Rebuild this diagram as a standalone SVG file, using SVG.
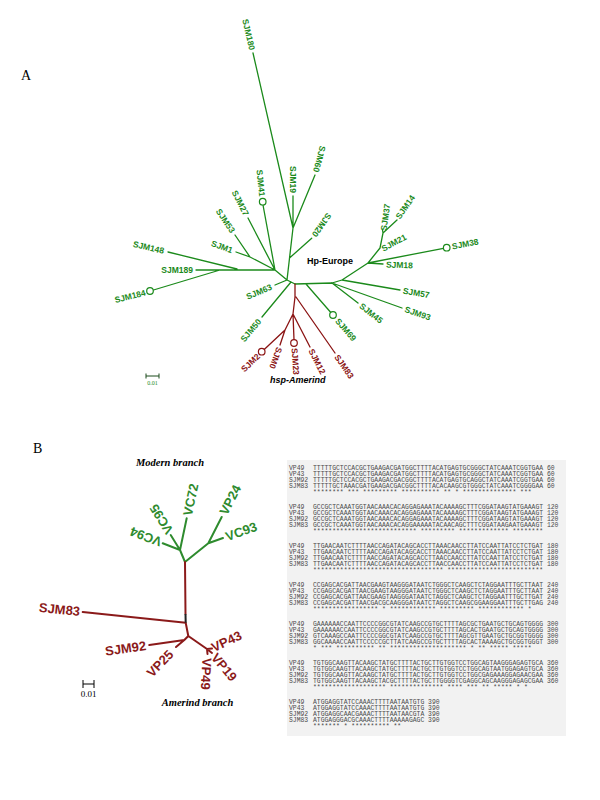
<svg xmlns="http://www.w3.org/2000/svg" width="600" height="800" viewBox="0 0 600 800">
<style>
.bg{fill:#ffffff}
.ga{stroke:#1b8a1b;stroke-width:1.3;fill:none;stroke-linecap:round}
.ra{stroke:#8b1414;stroke-width:1.3;fill:none;stroke-linecap:round}
.gb{stroke:#2e8b2e;stroke-width:2;fill:none;stroke-linecap:round}
.rb{stroke:#8b1a1a;stroke-width:2;fill:none;stroke-linecap:round}
.cg{stroke:#1b8a1b;stroke-width:1.2;fill:#ffffff}
.cr{stroke:#8b1414;stroke-width:1.2;fill:#ffffff}
.lg{font-family:"Liberation Sans",Arial,sans-serif;font-size:8.5px;font-weight:bold;fill:#1b8a1b}
.lr{font-family:"Liberation Sans",Arial,sans-serif;font-size:8.5px;font-weight:bold;fill:#8b1414}
.Lg{font-family:"Liberation Sans",Arial,sans-serif;font-size:13px;font-weight:bold;fill:#2e8b2e}
.Lr{font-family:"Liberation Sans",Arial,sans-serif;font-size:13px;font-weight:bold;fill:#8b1a1a}
.pl{font-family:"Liberation Serif","Times New Roman",serif;font-size:14px;fill:#000}
.it{font-family:"Liberation Serif","Times New Roman",serif;font-size:10.5px;font-weight:bold;font-style:italic;fill:#000;text-anchor:middle}
.sq{font-family:"Liberation Mono","Courier New",monospace;font-size:6.4px;fill:#4a4a4a;white-space:pre}
</style>
<rect class="bg" x="0" y="0" width="600" height="800"/>
<text class="pl" x="21" y="80">A</text>
<text class="pl" x="33" y="453">B</text>

<!-- Tree A connectors -->
<g id="connectors-a">
<path class="ga" d="M293,228 L253,53 M293,228 L293,196 M293,228 L315,175 M293,228 L287,280 M289.5,258 L311.7,238.3 M287,280 L275,270 M275,270 L263,205 M275,270 L248,218 M275,270 L250,257 M250,257 L235,235 M250,257 L236,252 M275,270 L196,270 M237,269 L168,252 M220,270 L153.5,290 M287,280 L275,285 M287,280 L295,284 M291,282 L262,317 M295,284 L332,283 M306,284 L330.8,312.5 M332,283 L358,303 M332,283 L402,308 M332,283 L342,280 M342,280 L400,290 M342,280 L368,263 M368,263 L383,264 M368,263 L443.5,248.3 M368,263 L380,248 M380,248 L383,233 M383,233 L382.5,230 M383,233 L397,220"/>
<path class="ra" d="M295,284 L295,297 L293,314 M296,297 L335,353 M293,314 L310,347 M293,314 L294,339.7 M293,314 L285,330 M285,330 L280,345 M285,330 L264.2,349.5"/>
</g>

<!-- Tree A nodes -->
<g id="node-sjm180"><text class="lg" text-anchor="end" dy="0.35em" transform="translate(252.3,50) rotate(77)">SJM180</text></g>
<g id="node-sjm19"><text class="lg" text-anchor="end" dy="0.35em" transform="translate(293,193) rotate(90)">SJM19</text></g>
<g id="node-sjm60"><text class="lg" text-anchor="end" dy="0.35em" transform="translate(316,172) rotate(105)">SJM60</text></g>
<g id="node-sjm20"><text class="lg" text-anchor="end" dy="0.35em" transform="translate(314,236) rotate(125)">SJM20</text></g>
<g id="node-sjm41"><circle class="cg" cx="262.7" cy="201.7" r="3.3"/><text class="lg" text-anchor="end" dy="0.35em" transform="translate(262.3,196.5) rotate(84)">SJM41</text></g>
<g id="node-sjm27"><text class="lg" text-anchor="end" dy="0.35em" transform="translate(246.5,215) rotate(63)">SJM27</text></g>
<g id="node-sjm53"><text class="lg" text-anchor="end" dy="0.35em" transform="translate(233,232) rotate(56)">SJM53</text></g>
<g id="node-sjm1"><text class="lg" text-anchor="end" dy="0.35em" transform="translate(232.5,250.5) rotate(20)">SJM1</text></g>
<g id="node-sjm148"><text class="lg" text-anchor="end" dy="0.35em" transform="translate(164,251) rotate(13)">SJM148</text></g>
<g id="node-sjm189"><text class="lg" text-anchor="end" dy="0.35em" transform="translate(193,270)">SJM189</text></g>
<g id="node-sjm184"><circle class="cg" cx="150" cy="291" r="3.3"/><text class="lg" text-anchor="end" dy="0.35em" transform="translate(145.5,292.5) rotate(-14)">SJM184</text></g>
<g id="node-sjm63"><text class="lg" text-anchor="end" dy="0.35em" transform="translate(271.5,286.5) rotate(-23)">SJM63</text></g>
<g id="node-sjm50"><text class="lg" text-anchor="end" dy="0.35em" transform="translate(259.5,320) rotate(-50)">SJM50</text></g>
<g id="node-sjm69"><circle class="cg" cx="333" cy="315" r="3.3"/><text class="lg" dy="0.35em" transform="translate(337,319.5) rotate(49)">SJM69</text></g>
<g id="node-sjm45"><text class="lg" dy="0.35em" transform="translate(360.5,305) rotate(38)">SJM45</text></g>
<g id="node-sjm93"><text class="lg" dy="0.35em" transform="translate(405,309) rotate(19)">SJM93</text></g>
<g id="node-sjm57"><text class="lg" dy="0.35em" transform="translate(403,290.5) rotate(10)">SJM57</text></g>
<g id="node-sjm18"><text class="lg" dy="0.35em" transform="translate(386,264.5) rotate(2)">SJM18</text></g>
<g id="node-sjm38"><circle class="cg" cx="446.7" cy="247.7" r="3.3"/><text class="lg" dy="0.35em" transform="translate(452,246.5) rotate(-11)">SJM38</text></g>
<g id="node-sjm21"><text class="lg" dy="0.35em" transform="translate(382,249) rotate(-28)">SJM21</text></g>
<g id="node-sjm37"><text class="lg" dy="0.35em" transform="translate(383.5,230.5) rotate(-82)">SJM37</text></g>
<g id="node-sjm14"><text class="lg" dy="0.35em" transform="translate(397.5,218) rotate(-55)">SJM14</text></g>
<g id="node-sjm83a"><text class="lr" dy="0.35em" transform="translate(336.5,355.5) rotate(55)">SJM83</text></g>
<g id="node-sjm12"><text class="lr" dy="0.35em" transform="translate(311,349.5) rotate(63)">SJM12</text></g>
<g id="node-sjm23"><circle class="cr" cx="294" cy="343" r="3.3"/><text class="lr" dy="0.35em" transform="translate(294.5,348) rotate(86)">SJM23</text></g>
<g id="node-sjm0"><text class="lr" dy="0.35em" transform="translate(279.5,347.5) rotate(110)">SJM0</text></g>
<g id="node-sjm2"><circle class="cr" cx="261.7" cy="351.7" r="3.3"/><text class="lr" text-anchor="end" dy="0.35em" transform="translate(258.5,355) rotate(-44)">SJM2</text></g>
<g id="label-hpeurope"><text x="307" y="264" style="font-family:'Liberation Sans',Arial,sans-serif;font-size:9px;font-weight:bold;fill:#000">Hp-Europe</text></g>
<g id="label-hspamerind"><text x="270" y="383" style="font-family:'Liberation Sans',Arial,sans-serif;font-size:9px;font-weight:bold;font-style:italic;fill:#000">hsp-Amerind</text></g>
<g id="scale-a"><path d="M146,376 L159,376 M146,373.5 L146,378.5 M159,373.5 L159,378.5" stroke="#1a4a1a" stroke-width="1" fill="none"/><text x="152.5" y="385" text-anchor="middle" style="font-family:'Liberation Serif',serif;font-size:6px;fill:#1b8a1b">0.01</text></g>

<!-- Tree B connectors -->
<g id="connectors-b">
<path class="gb" d="M185,562 L180,550 M180,550 L162.7,543.3 M180,550 L170.7,535 M180,550 L186.7,518.3 M185,562 L208.3,543.3 M208.3,543.3 L221.7,517 M208.3,543.3 L223,538"/>
<path class="rb" d="M185,562 L185.5,614 M82.7,612 L185.7,622.7 M185.7,622.7 L188.3,636 M188.3,636 L184.3,640 M184.3,640 L149.3,645 M184.3,640 L176,647 M188.3,636 L207,649 M207,649 L212,648.5 M207,649 L212,653 M207,649 L207.5,654"/>
<path d="M185.5,614 L185.7,622.7" stroke="#222" stroke-width="2" fill="none"/>
</g>

<!-- Tree B nodes -->
<g id="node-vc94"><text class="Lg" dy="0.35em" transform="translate(161,542.5) rotate(201)">VC94</text></g>
<g id="node-vc95"><text class="Lg" dy="0.35em" transform="translate(170,533) rotate(-122)">VC95</text></g>
<g id="node-vc72"><text class="Lg" dy="0.35em" transform="translate(187.3,515.5) rotate(-78)">VC72</text></g>
<g id="node-vp24"><text class="Lg" dy="0.35em" transform="translate(223,514) rotate(-63)">VP24</text></g>
<g id="node-vc93"><text class="Lg" dy="0.35em" transform="translate(226,537) rotate(-20)">VC93</text></g>
<g id="node-sjm83b"><text class="Lr" text-anchor="end" dy="0.35em" transform="translate(80,611.5) rotate(6)">SJM83</text></g>
<g id="node-sjm92"><text class="Lr" text-anchor="end" dy="0.35em" transform="translate(146,645.5) rotate(-8)">SJM92</text></g>
<g id="node-vp25"><text class="Lr" text-anchor="end" dy="0.35em" transform="translate(171,652) rotate(-46)">VP25</text></g>
<g id="node-vp43"><text class="Lr" dy="0.35em" transform="translate(212,648) rotate(-25)">VP43</text></g>
<g id="node-vp19"><text class="Lr" dy="0.35em" transform="translate(214,655) rotate(50)">VP19</text></g>
<g id="node-vp49"><text class="Lr" dy="0.35em" transform="translate(207,658) rotate(93)">VP49</text></g>
<g id="label-modern"><text class="it" x="170" y="466">Modern branch</text></g>
<g id="label-amerind"><text class="it" x="197.5" y="706">Amerind branch</text></g>
<g id="scale-b"><path d="M83,684 L94,684 M83,680 L83,688 M94,680 L94,688" stroke="#000" stroke-width="1" fill="none"/><text x="88.5" y="697" text-anchor="middle" style="font-family:'Liberation Serif',serif;font-size:9px;fill:#000">0.01</text></g>

<!-- Alignment panel -->
<g id="alignment">
<rect x="287" y="460" width="279" height="276" fill="#f2f2f2"/>
<g class="sq">
<text x="289" y="470">VP49</text><text x="313" y="470">TTTTTGCTCCACGCTGAAGACGATGGCTTTTACATGAGTGCGGGCTATCAAATCGGTGAA 60</text>
<text x="289" y="476">VP43</text><text x="313" y="476">TTTTTGCTCCACGCTGAAGACGATGGCTTTTACATGAGTGCGGGCTATCAAATCGGTGAA 60</text>
<text x="289" y="482">SJM92</text><text x="313" y="482">TTTTTGCTCCACGCTGAAGACGACGGCTTTTACATGAGTGCAGGCTATCAAATCGGTGAA 60</text>
<text x="289" y="488">SJM83</text><text x="313" y="488">TTTTTGCTAAACGATGAAGACGACGGCTTTTACACAAGCGTGGGCTATCAAATCGGGGAA 60</text>
<text x="313" y="494">********  *** ********* **********  ** *  ************** ***</text>

<text x="289" y="509">VP49</text><text x="313" y="509">GCCGCTCAAATGGTAACAAACACAGGAGAAATACAAAAGCTTTCGGATAAGTATGAAAGT 120</text>
<text x="289" y="515">VP43</text><text x="313" y="515">GCCGCTCAAATGGTAACAAACACAGGAGAAATACAAAAGCTTTCGGATAAGTATGAAAGT 120</text>
<text x="289" y="521">SJM92</text><text x="313" y="521">GCCGCTCAAATGGTAACAAACACAGGAGAAATACAAAAGCTTTCGGATAAGTATGAAAGT 120</text>
<text x="289" y="527">SJM83</text><text x="313" y="527">GCCGCTCAAATGGTAACAAACACAGGAAAAATACAACAGCTTTCGGATAAGAATGAAAGT 120</text>
<text x="313" y="533">*************************** ********* ************* ********</text>

<text x="289" y="548">VP49</text><text x="313" y="548">TTGAACAATCTTTTAACCAGATACAGCACCTTAAACAACCTTATCCAATTATCCTCTGAT 180</text>
<text x="289" y="554">VP43</text><text x="313" y="554">TTGAACAATCTTTTAACCAGATACAGCACCTTAAACAACCTTATCCAATTATCCTCTGAT 180</text>
<text x="289" y="560">SJM92</text><text x="313" y="560">TTGAACAATCTTTTAACCAGATACAGCACCTTAACCAACCTTATCCAATTATCCTCTGAT 180</text>
<text x="289" y="566">SJM83</text><text x="313" y="566">TTGAACAATCTTTTAACCAGATACAGCACCTTAACCAACCTTATCCAATTATCCTCTGAT 180</text>
<text x="313" y="572">********************************** *************************</text>

<text x="289" y="587">VP49</text><text x="313" y="587">CCGAGCACGATTAACGAAGTAAGGGATAATCTGGGCTCAAGCTCTAGGAATTTGCTTAAT 240</text>
<text x="289" y="593">VP43</text><text x="313" y="593">CCGAGCACGATTAACGAAGTAAGGGATAATCTGGGCTCAAGCTCTAGGAATTTGCTTAAT 240</text>
<text x="289" y="599">SJM92</text><text x="313" y="599">CCGAGCACGATTAACGAAGTAAGGGATAATCTAGGCTCAAGCTCTAGGAATTTGCTTGAT 240</text>
<text x="289" y="605">SJM83</text><text x="313" y="605">CCGAGCACGATTAACGACGCAAGGGATAATCTAGGCTCAAGCGGAAGGAATTTGCTTGAG 240</text>
<text x="313" y="611">***************** * ************ *********   ************ * </text>

<text x="289" y="626">VP49</text><text x="313" y="626">GAAAAAACCAATTCCCCGGCGTATCAAGCCGTGCTTTTAGCGCTGAATGCTGCAGTGGGG 300</text>
<text x="289" y="632">VP43</text><text x="313" y="632">GAAAAAACCAATTCCCCGGCGTATCAAGCCGTGCTTTTAGCACTGAATGCTGCAGTGGGG 300</text>
<text x="289" y="638">SJM92</text><text x="313" y="638">GTCAAAGCCAATTCCCCGGCGTATCAAGCCGTGCTTTTAGCGTTGAATGCTGCGGTGGGG 300</text>
<text x="289" y="644">SJM83</text><text x="313" y="644">GGCAAAACCAATTCCCCCGCTTATCAAGCCGTGCTTTTAGCACTAAAAGCTGCGGTGGGT 300</text>
<text x="313" y="650">*  *** ********** ** ********************  * ** ***** ***** </text>

<text x="289" y="665">VP49</text><text x="313" y="665">TGTGGCAAGTTACAAGCTATGCTTTTACTGCTTGTGGTCCTGGCAGTAAGGGAGAGTGCA 360</text>
<text x="289" y="671">VP43</text><text x="313" y="671">TGTGGCAAGTTACAAGCTATGCTTTTACTGCTTGTGGTCCTGGCAGTAATGGAGAGTGCA 360</text>
<text x="289" y="677">SJM92</text><text x="313" y="677">TGTGGCAAGTTACAAGCTATGCTTTTACTGCTTGTGGTCCTGGCGAGAAAGGAGAACGAA 360</text>
<text x="289" y="683">SJM83</text><text x="313" y="683">TGTGGCAAGTTACAAGCTACGCTTTTACTGCTTGGGGTCGAGGCAGCAAGGGAGAGCGAA 360</text>
<text x="313" y="689">******************* ************** ****  ***   ** *****  * *</text>

<text x="289" y="704">VP49</text><text x="313" y="704">ATGGAGGTATCCAAACTTTTAATAATGTG 390</text>
<text x="289" y="710">VP43</text><text x="313" y="710">ATGGAGGTATCCAAACTTTTAATAATGTG 390</text>
<text x="289" y="716">SJM92</text><text x="313" y="716">ATGGAGGCAACGAAACTTTTAATAACGTA 390</text>
<text x="289" y="722">SJM83</text><text x="313" y="722">ATGGAGGGACGCAAACTTTTAAAAAGAGC 390</text>
<text x="313" y="728">******* *   ********** **</text>
</g>
</g>
</svg>
